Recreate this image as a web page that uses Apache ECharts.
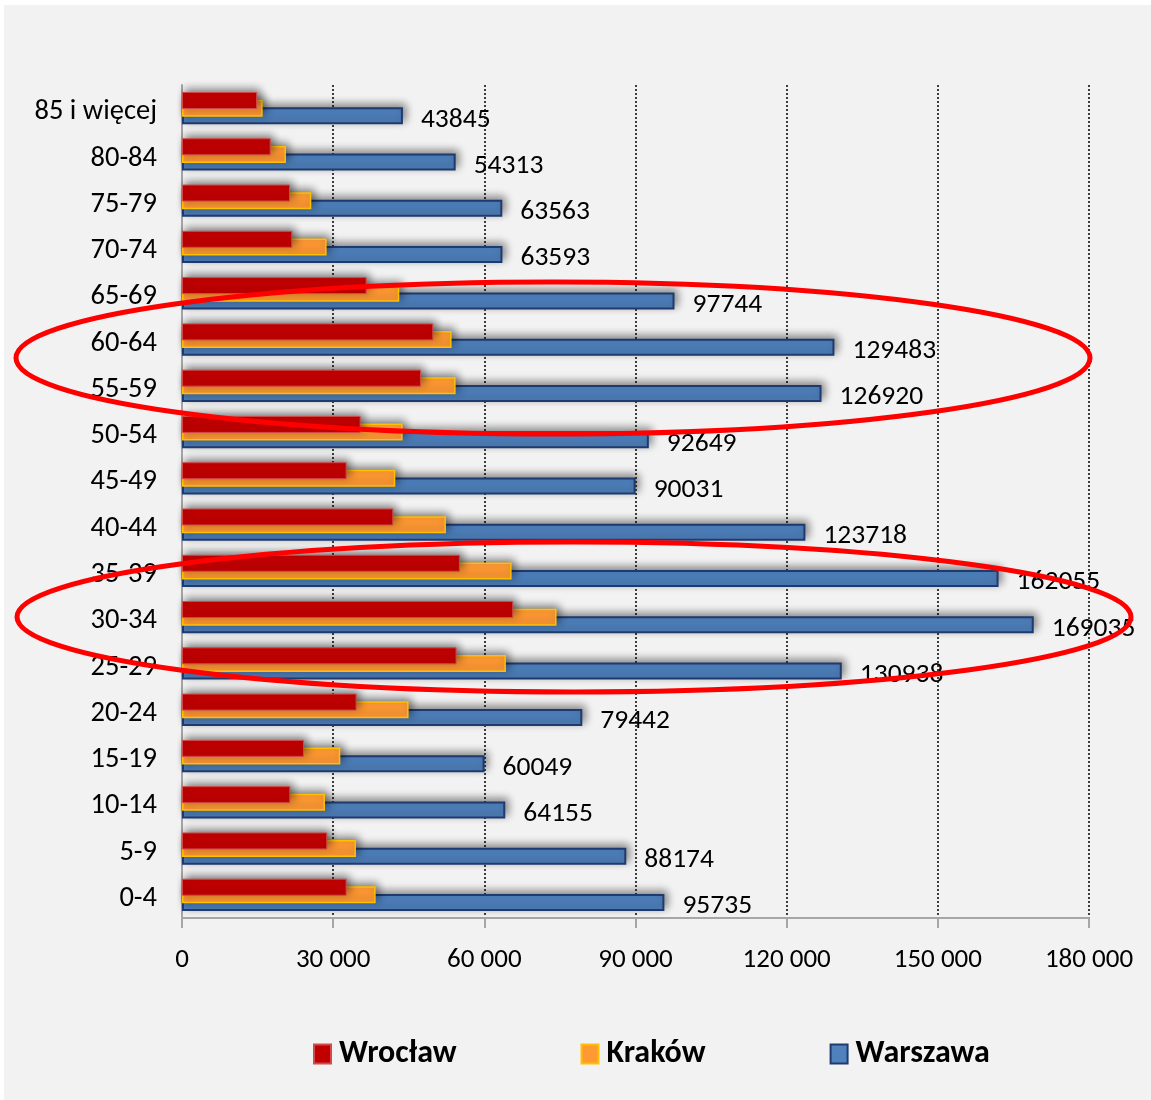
<!DOCTYPE html>
<html>
<head>
<meta charset="utf-8">
<script src="https://cdn.jsdelivr.net/npm/echarts@6/dist/echarts.min.js"></script>
<style>
  html, body { margin: 0; padding: 0; background: #ffffff; }
  #panel { position: absolute; left: 4px; top: 5px; width: 1147px; height: 1095px; background: #F2F2F2; }
  #chart { position: absolute; left: 0; top: 0; width: 1151px; height: 1100px; }
</style>
</head>
<body>
<div id="panel"></div>
<div id="chart"></div>
<script>
// Age groups, youngest first (category axis runs bottom to top)
const ageGroups = ['0-4', '5-9', '10-14', '15-19', '20-24', '25-29', '30-34', '35-39', '40-44',
  '45-49', '50-54', '55-59', '60-64', '65-69', '70-74', '75-79', '80-84', '85 i więcej'];

// Population by age group
const wroclaw = [32670, 28830, 21490, 24200, 34650, 54490, 65730, 55150, 41930,
  32670, 35450, 47420, 49870, 36640, 21890, 21430, 17600, 14900];
const krakow = [38430, 34520, 28370, 31420, 44970, 64280, 74330, 65410, 52380,
  42330, 43780, 54300, 53500, 43120, 28700, 25660, 20630, 16000];
const warszawa = [95735, 88174, 64155, 60049, 79442, 130938, 169035, 162055, 123718,
  90031, 92649, 126920, 129483, 97744, 63593, 63563, 54313, 43845];

// Value axis ticks
const axisMin = 0, axisMax = 180000, axisStep = 30000;

const FONT = 'Carlito, Calibri, Lato, sans-serif';

function thousands(v) {
  return String(v).replace(/\B(?=(\d{3})+(?!\d))/g, ' ');
}

const barShadow = {
  shadowColor: 'rgba(0,0,0,0.45)',
  shadowBlur: 8,
  shadowOffsetX: 3,
  shadowOffsetY: -3
};

const chart = echarts.init(document.getElementById('chart'), null, { renderer: 'canvas' });

chart.setOption({
  backgroundColor: 'transparent',
  animation: false,
  grid: { left: 182, right: 62, top: 85, bottom: 182, containLabel: false },
  legend: {
    left: 313,
    top: 1038,
    padding: 0,
    itemWidth: 17,
    itemHeight: 19,
    itemGap: 124,
    icon: 'rect',
    textStyle: { fontFamily: FONT, fontSize: 32, fontWeight: 'bold', color: '#000', padding: [0, 0, 0, 3] },
    data: ['Wrocław', 'Kraków', 'Warszawa']
  },
  xAxis: {
    type: 'value',
    min: axisMin,
    max: axisMax,
    interval: axisStep,
    axisLine: { show: true, lineStyle: { color: '#A6A6A6', width: 2 } },
    axisTick: { show: true, length: 10, lineStyle: { color: '#A6A6A6', width: 2 } },
    axisLabel: { margin: 29, fontFamily: FONT, fontSize: 27, color: '#000', formatter: thousands },
    splitLine: { show: true, lineStyle: { color: '#000', width: 1.5, type: [2, 2] } }
  },
  yAxis: {
    type: 'category',
    data: ageGroups,
    axisLine: { show: true, lineStyle: { color: '#A6A6A6', width: 2 } },
    axisTick: { show: false },
    axisLabel: {
      margin: 25,
      formatter: '{a|{value}}',
      rich: {
        a: { fontFamily: FONT, fontSize: 28.5, color: '#000', lineHeight: 30, padding: [8, 0, 0, 0] }
      }
    },
    splitLine: { show: false }
  },
  series: [
    {
      name: 'Wrocław',
      type: 'bar',
      data: wroclaw,
      barWidth: 17,
      barGap: '-55%',
      z: 4,
      itemStyle: Object.assign({ color: '#C00000', borderColor: '#D24A4A', borderWidth: 1 }, barShadow)
    },
    {
      name: 'Kraków',
      type: 'bar',
      data: krakow,
      barWidth: 17,
      barGap: '-55%',
      z: 3,
      itemStyle: Object.assign({ color: '#FF9933', borderColor: '#FFC000', borderWidth: 1.5 }, barShadow)
    },
    {
      name: 'Warszawa',
      type: 'bar',
      data: warszawa,
      barWidth: 17,
      barGap: '-55%',
      z: 2,
      itemStyle: Object.assign({ color: '#4F81BD', borderColor: '#1F3A6E', borderWidth: 2 }, barShadow),
      label: {
        show: true,
        position: 'right',
        distance: 18,
        offset: [0, 4],
        fontFamily: FONT,
        fontSize: 27.5,
        color: '#000'
      }
    }
  ],
  graphic: [
    {
      type: 'ellipse',
      z: 100,
      shape: { cx: 553, cy: 358, rx: 537, ry: 76 },
      style: { fill: 'none', stroke: '#FF0000', lineWidth: 5 }
    },
    {
      type: 'ellipse',
      z: 100,
      shape: { cx: 574, cy: 617, rx: 557, ry: 75 },
      style: { fill: 'none', stroke: '#FF0000', lineWidth: 5 }
    }
  ]
});
</script>
</body>
</html>
